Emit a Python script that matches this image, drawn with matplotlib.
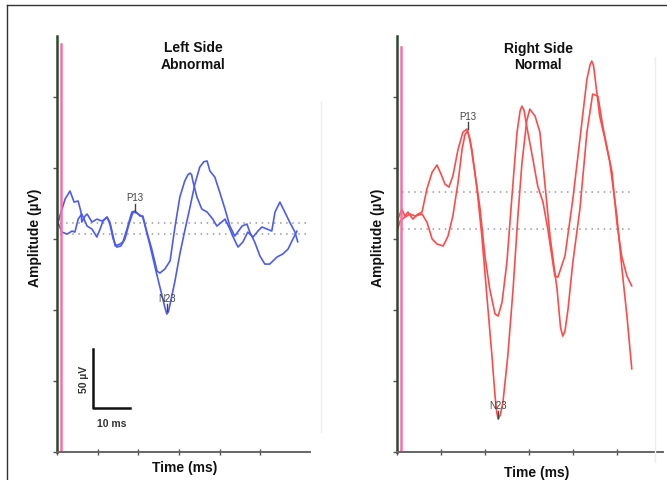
import matplotlib.pyplot as plt
from matplotlib.lines import Line2D

# ---------------- data (ms, uV) ----------------

# left side, trace 1 (shallow N23)
left1_t = [0, 0.7, 2.0, 3.2, 4.2, 5.2, 5.9, 6.1, 6.9, 7.4, 8.6, 9.8, 11.1, 12.3, 13.0, 13.8,
           14.3, 15.5, 16.2, 17.2, 18.4, 19.2, 20.4, 21.1, 22.1, 23.3, 24.6, 25.3, 26.5, 27.8,
           29.0, 30.2, 31.4, 32.2, 32.7, 33.1, 33.4, 34.4, 35.6, 36.9, 38.3, 39.3, 40.5, 41.3, 42.5, 43.2,
           44.5, 45.7, 46.9, 48.2, 49.4, 50.4, 51.6, 52.8, 53.6, 54.8, 56.0, 57.2, 58.5, 59.2]
left1_v = [10.2, 19.5, 33.9, 40.7, 31.3, 32.2, 22.9, 14.4, 19.5, 21.2, 14.4, 16.9, 15.2, 18.6, 14.4, 2.5,
           -5.9, -4.2, -2.5, 8.5, 22.9, 23.7, 19.5, 19.5, 5.9, -8.5, -27.1, -28.8, -25.4, -18.6,
           10.2, 35.6, 49.1, 54.5, 55.9, 54.5, 49.1, 35.6, 25.4, 22.9, 16.9, 11.0, 14.4, 16.9, 8.5, 2.5,
           -6.8, -2.5, 5.9, 1.7, 6.8, 10.2, 8.5, 6.8, 22.9, 31.3, 22.9, 14.4, 5.9, -2.5]

# left side, trace 2 (deep N23)
left2_t = [0.2, 1.2, 2.5, 3.7, 4.4, 5.2, 6.1, 7.4, 8.6, 9.8, 10.6, 11.3, 12.3, 13.0, 13.8, 14.7,
           15.7, 16.7, 17.7, 18.7, 19.7, 21.1, 22.9, 24.1, 25.3, 26.5, 27.0, 27.4, 27.8, 29.0, 30.2,
           31.4, 32.7, 33.9, 35.1, 36.1, 36.9, 37.6, 38.8, 39.6, 40.0, 41.3, 42.5, 43.7, 45.5, 46.7,
           47.4, 48.6, 49.9, 51.1, 52.3, 54.1, 55.5, 56.8, 58.0, 59.0]
left2_v = [14.4, 5.9, 4.2, 6.8, 5.9, 16.9, 21.2, 11.0, 8.5, 1.7, 8.5, 15.2, 18.6, 12.7, 0, -6.8,
           -5.9, 0, 12.7, 22.9, 22.0, 18.6, -5.9, -23.7, -40.7, -57.6, -63.5, -61.5, -55.1, -35.6, -12.7,
           6.8, 27.1, 46.6, 61.0, 65.5, 66.1, 57.6, 52.5, 44.0, 39.8, 25.4, 11.0, 2.5, 11.0, 12.7,
           5.9, -2.5, -14.4, -21.2, -21.2, -15.2, -12.7, -8.5, 0, 6.8]

# right side, trace 1 (shallow N23)
right1_t = [0, 0.2, 1.1, 1.8, 2.5, 3.6, 4.8, 5.7, 6.8, 8.0, 9.1, 10.2, 10.9, 11.8, 12.7, 13.9,
            15.0, 15.9, 16.6, 17.7, 18.9, 20.0, 21.1, 22.3, 23.0, 23.9, 25.0, 26.1, 27.3, 28.0, 28.4,
            28.9, 29.5, 30.9, 32.0, 33.2, 34.3, 35.9, 36.6, 38.2, 40.0, 41.6, 43.2, 43.9, 44.3, 44.7, 45.0, 46.1,
            47.3, 48.4, 50.0, 51.1, 52.3, 53.4]
right1_v = [12.7, 16.9, 25.4, 19.5, 22.9, 16.9, 21.2, 22.9, 42.4, 56.7, 62.7, 53.4, 46.6, 44.0, 53.4, 76.2,
            90.6, 93.2, 84.7, 56.7, 25.4, -14.4, -42.4, -63.5, -65.2, -53.4, -19.5, 33.9, 90.6, 108.5, 112.6,
            109.0, 95.7, 67.8, 44.9, 31.3, 8.5, -31.3, -32.2, -14.4, 33.9, 84.7, 135.5, 147.4, 150.8, 147.0, 138.1, 104.2,
            84.7, 65.2, 19.5, -22.9, -65.2, -110.1]

# right side, trace 2 (deep N23)
right2_t = [0, 0.7, 1.8, 3.0, 4.1, 5.7, 6.8, 8.0, 9.1, 10.5, 11.6, 12.7, 13.9, 14.8, 15.5, 16.1,
            17.0, 18.2, 19.3, 20.5, 21.6, 22.3, 22.7, 23.0, 23.5, 24.1, 25.2, 26.4, 27.5, 28.4, 29.5, 30.2,
            31.4, 32.5, 33.6, 34.8, 36.4, 37.2, 37.7, 38.2, 38.9, 40.0, 41.6, 43.2, 44.5, 45.7, 46.8, 47.7,
            48.9, 50.0, 51.1, 52.3, 53.4]
right2_v = [6.8, 15.2, 18.6, 21.2, 19.5, 21.2, 14.4, 0, -4.2, -5.9, 2.5, 19.5, 48.3, 76.2, 88.9, 91.5,
            76.2, 42.4, 2.5, -50.8, -99.1, -133.0, -147.0, -152.5, -149.0, -138.1, -99.1, -42.4, 19.5, 63.5, 99.9, 110.1,
            104.2, 90.6, 48.3, 2.5, -42.4, -75.0, -82.2, -78.0, -59.3, -19.5, 25.4, 90.6, 122.8, 121.1, 95.7, 78.8,
            56.7, 14.4, -14.4, -31.3, -39.8]

# baselines (dotted) and peak markers
left_base = [13.6, 4.2]
right_base = [39.8, 8.5]
left_peaks = {"P13": (19.2, 24.0), "N23": (27.0, -61.0)}
right_peaks = {"P13": (16.1, 93.0), "N23": (23.0, -152.0)}

W, H = 667, 481
fig = plt.figure(figsize=(W / 100, H / 100), dpi=100)
font = ["Liberation Sans", "DejaVu Sans"]


def px(x, y):
    return x / W, 1 - y / H


def setup(ax, xmax):
    ax.set_xlim(0, xmax)
    ax.set_ylim(-180.4, 172)
    ax.set_xticks([0, 10, 20, 30, 40, 50])
    ax.set_yticks([-180, -120, -60, 0, 60, 120])
    ax.set_xticklabels([])
    ax.set_yticklabels([])
    ax.tick_params(axis="y", direction="out", length=3, width=1, color="#555555")
    ax.tick_params(axis="x", direction="inout", length=5, width=1, color="#555555")
    for s in ["top", "right"]:
        ax.spines[s].set_visible(False)
    ax.spines["left"].set_color("#2a4a2a")
    ax.spines["left"].set_linewidth(1.8)
    ax.spines["bottom"].set_color("#666666")
    ax.spines["bottom"].set_linewidth(1.4)
    ax.patch.set_alpha(0)


def peaks(ax, marks):
    for name, (t, v) in marks.items():
        ax.plot([t, t], [v, v + 6], color="#444444", lw=1)
        ax.text(t, v + 7, name, ha="center", va="bottom", fontsize=7,
                color="#444444", family=font)


trace = dict(lw=1.2, solid_joinstyle="round", solid_capstyle="round")

# ---------------- left side ----------------
axL = fig.add_axes([57 / W, 28 / H, 253 / W, 416 / H])
setup(axL, 62.2)
for b in left_base:
    axL.plot([0.7, 61.2], [b, b], color="#999999", lw=1.1, dashes=(1, 3))
axL.plot(left1_t, left1_v, color="#4d5cf0", **trace)
axL.plot(left2_t, left2_v, color="#4d5cf0", **trace)
axL.plot([1.0, 1.0], [-180.4, 165], color="#ff6aa6", lw=1.8)
peaks(axL, left_peaks)

# scale bar
axL.plot([8.8, 8.8, 17.9], [-93.2, -143.1, -143.1], color="#111111", lw=1.8)
axL.text(6.6, -118, "50 µV", rotation=90, ha="center", va="center", fontsize=7.5,
         fontweight="bold", color="#333333", family=font)
axL.text(13.5, -152, "10 ms", ha="center", va="top", fontsize=7.5,
         fontweight="bold", color="#333333", family=font)

# ---------------- right side ----------------
axR = fig.add_axes([397 / W, 28 / H, 266 / W, 416 / H])
setup(axR, 60.5)
for b in right_base:
    axR.plot([1.1, 53.4], [b, b], color="#999999", lw=1.1, dashes=(1, 3))
axR.plot(right1_t, right1_v, color="#ff4a4a", **trace)
axR.plot(right2_t, right2_v, color="#ff4a4a", **trace)
axR.plot([0.9, 0.9], [-180.4, 162.6], color="#ff6aa6", lw=1.8)
peaks(axR, right_peaks)

# titles and axis labels
lab = dict(fontsize=10, fontweight="bold", color="#111111", family=font,
           ha="center", va="center")
for x, y, s in [(193, 48, "Left Side"), (193, 65, "Abnormal"),
                (538, 49, "Right Side"), (538, 65, "Normal")]:
    fig.text(*px(x, y), s, **lab)
fig.text(*px(35, 238), "Amplitude (µV)", rotation=90, **lab)
fig.text(*px(378, 238), "Amplitude (µV)", rotation=90, **lab)
fig.text(*px(185, 468), "Time (ms)", **lab)
fig.text(*px(537, 473), "Time (ms)", **lab)

# frame and faint right edges
fig.add_artist(Line2D([7 / W, 1], [1 - 6 / H, 1 - 6 / H], color="#333333", lw=1))
fig.add_artist(Line2D([7 / W, 7 / W], [0, 1 - 6 / H], color="#333333", lw=1))
fig.add_artist(Line2D([321 / W, 321 / W], [1 - 433 / H, 1 - 103 / H], color="#eeeee6", lw=1))
fig.add_artist(Line2D([655 / W, 655 / W], [1 - 463 / H, 1 - 58 / H], color="#eeeee6", lw=1))

fig.savefig("out.png", dpi=100, facecolor="white")
